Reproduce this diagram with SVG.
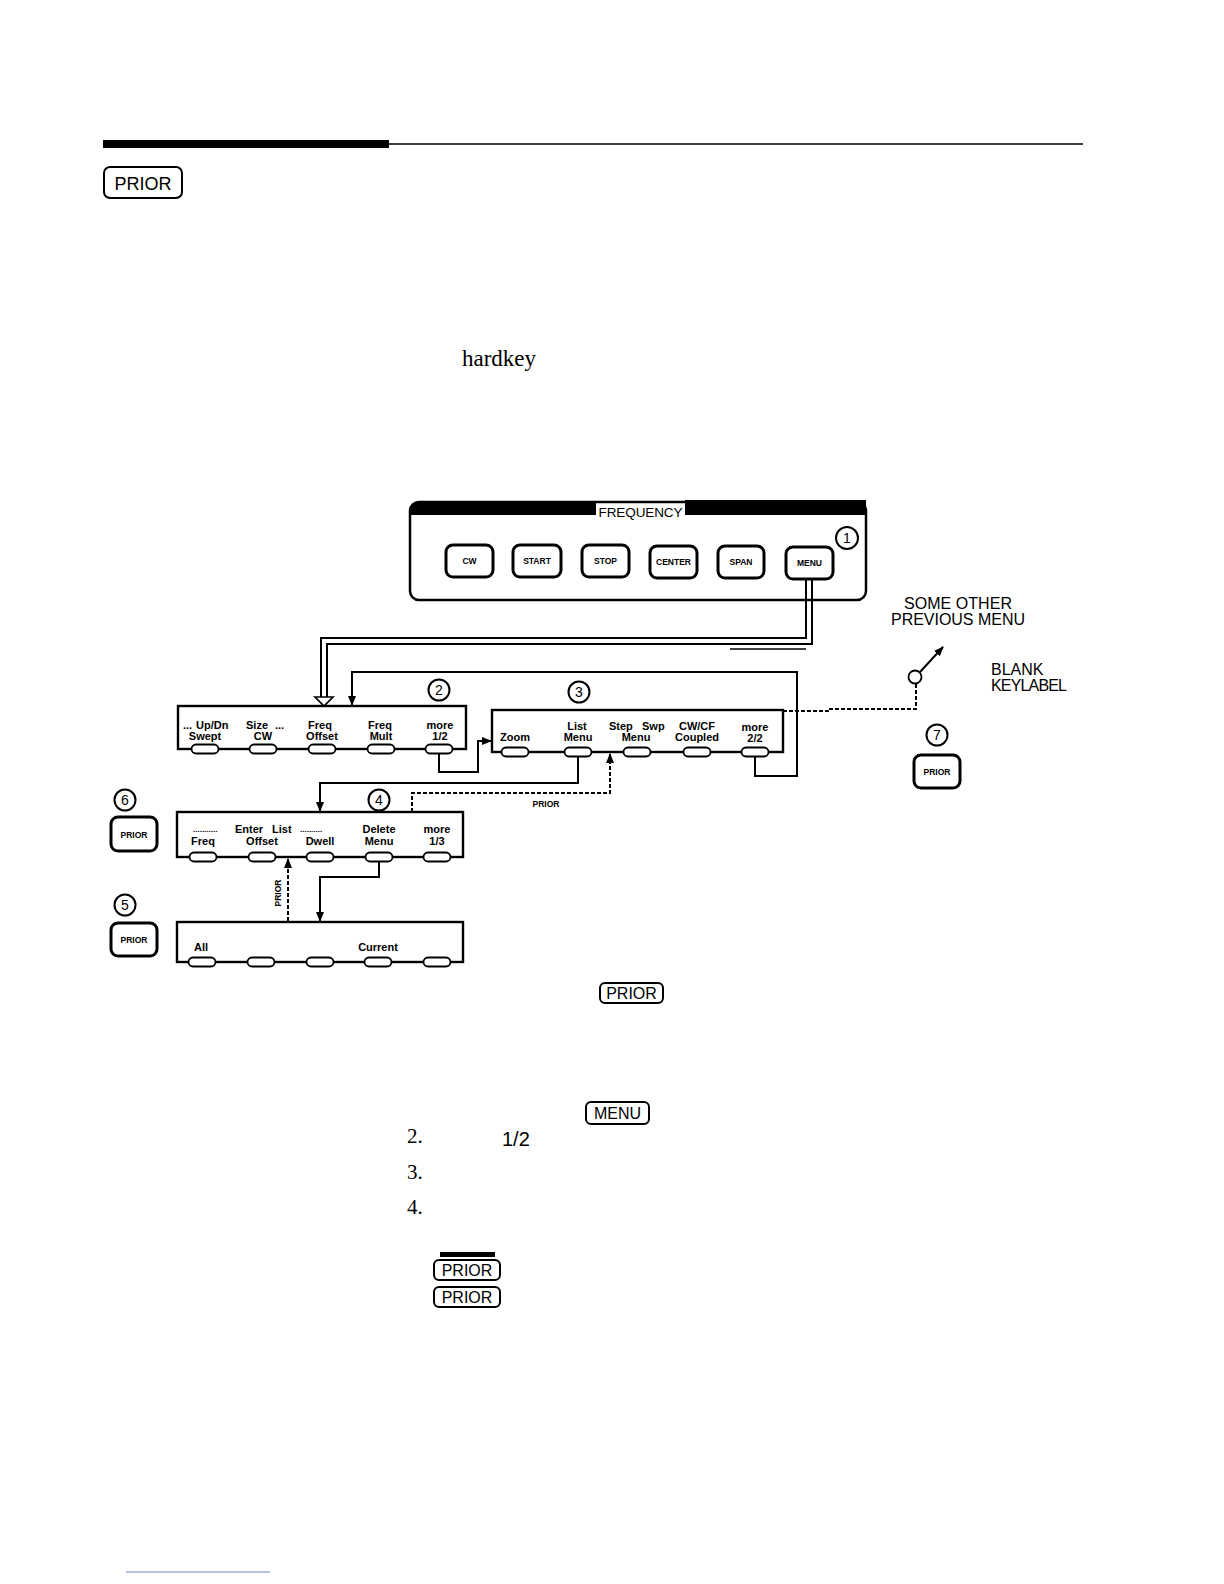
<svg xmlns="http://www.w3.org/2000/svg" xmlns:xlink="http://www.w3.org/1999/xlink" width="1224" height="1584" viewBox="0 0 1224 1584">
<style>
.box{fill:none;stroke:#000;stroke-width:2.4}
.key{fill:#fff;stroke:#000;stroke-width:1.8}
.hk{fill:#fff;stroke:#000;stroke-width:3}
.ln{fill:none;stroke:#000;stroke-width:2}
.dash{fill:none;stroke:#000;stroke-width:2;stroke-dasharray:4 2}
.lbl{font-family:"Liberation Sans",Arial,sans-serif;font-weight:bold;font-size:11px;text-anchor:middle}
.lbs{font-family:"Liberation Sans",Arial,sans-serif;font-weight:bold;font-size:11px}
.hkt{font-family:"Liberation Sans",Arial,sans-serif;font-weight:bold;font-size:8.5px;text-anchor:middle}
.num{font-family:"Liberation Sans",Arial,sans-serif;font-size:14px;text-anchor:middle}
.circ{fill:#fff;stroke:#000;stroke-width:2}
.cap{font-family:"Liberation Sans",Arial,sans-serif;font-size:16px}
.kt{font-family:"Liberation Sans",Arial,sans-serif;font-size:16px;text-anchor:middle}
.kb{fill:#fff;stroke:#000;stroke-width:2}
.ser{font-family:"Liberation Serif","Times New Roman",serif;font-size:21px}
</style>
<defs>
<rect id="sk" x="-13.5" y="-4.5" width="27" height="9" rx="4.5" class="key"/>
<marker id="arr" markerUnits="userSpaceOnUse" markerWidth="10" markerHeight="10" viewBox="0 0 10 10" refX="9" refY="5" orient="auto">
<path d="M0,1 L10,5 L0,9 Z" fill="#000"/>
</marker>
</defs>
<rect width="1224" height="1584" fill="#fff"/>

<g id="header">
<rect x="103" y="140" width="286" height="8" fill="#000"/>
<line x1="389" y1="144" x2="1083" y2="144" stroke="#000" stroke-width="1.5"/>
</g>

<g id="prior-top">
<rect x="104" y="167" width="78" height="31" rx="6" class="kb"/>
<text x="143" y="190" class="kt" style="font-size:18px">PRIOR</text>
</g>

<text id="hardkey" x="462" y="366" class="ser" style="font-size:23px">hardkey</text>

<g id="frequency-panel">
<rect x="410" y="502" width="456" height="98" rx="9" fill="none" stroke="#000" stroke-width="2.5"/>
<path d="M410,515 V511 Q410,502 419,502 H596 V515 Z" fill="#000"/>
<path d="M685,500 H866 V515 H685 Z" fill="#000"/>
<text x="640.5" y="517" class="cap" style="font-size:13.5px" text-anchor="middle" textLength="84">FREQUENCY</text>
<g id="btn-cw"><rect x="446" y="545" width="47" height="32" rx="7" class="hk"/><text x="469.5" y="564" class="hkt">CW</text></g>
<g id="btn-start"><rect x="513" y="545" width="48" height="32" rx="7" class="hk"/><text x="537" y="564" class="hkt">START</text></g>
<g id="btn-stop"><rect x="582" y="545" width="47" height="32" rx="7" class="hk"/><text x="605.5" y="564" class="hkt">STOP</text></g>
<g id="btn-center"><rect x="650" y="546" width="47" height="32" rx="7" class="hk"/><text x="673.5" y="565" class="hkt">CENTER</text></g>
<g id="btn-span"><rect x="718" y="546" width="46" height="32" rx="7" class="hk"/><text x="741" y="565" class="hkt">SPAN</text></g>
<g id="btn-menu"><rect x="786" y="547" width="47" height="32" rx="7" class="hk"/><text x="809.5" y="566" class="hkt">MENU</text></g>
</g>

<g id="c1"><circle cx="847" cy="538" r="11" class="circ"/><text x="847" y="543" class="num">1</text></g>
<g id="c2"><circle cx="439" cy="690" r="10.5" class="circ"/><text x="439" y="695" class="num">2</text></g>
<g id="c3"><circle cx="579" cy="692" r="10.5" class="circ"/><text x="579" y="697" class="num">3</text></g>
<g id="c4"><circle cx="379" cy="800" r="10.5" class="circ"/><text x="379" y="805" class="num">4</text></g>
<g id="c5"><circle cx="125" cy="905" r="10.5" class="circ"/><text x="125" y="910" class="num">5</text></g>
<g id="c6"><circle cx="125" cy="800" r="10.5" class="circ"/><text x="125" y="805" class="num">6</text></g>
<g id="c7"><circle cx="937" cy="735" r="10.5" class="circ"/><text x="937" y="740" class="num">7</text></g>

<g id="menu2">
<rect x="178" y="706" width="288" height="43" class="box"/>
<text x="183" y="729" class="lbs">...</text>
<text x="196" y="729" class="lbs">Up/Dn</text>
<text x="246" y="729" class="lbs">Size</text>
<text x="275" y="729" class="lbs">...</text>
<text x="205" y="740" class="lbl">Swept</text>
<text x="263" y="740" class="lbl">CW</text>
<text x="320" y="729" class="lbl">Freq</text>
<text x="322" y="740" class="lbl">Offset</text>
<text x="380" y="729" class="lbl">Freq</text>
<text x="381" y="740" class="lbl">Mult</text>
<text x="440" y="729" class="lbl">more</text>
<text x="440" y="740" class="lbl">1/2</text>
<use xlink:href="#sk" x="205" y="749"/><use xlink:href="#sk" x="263" y="749"/><use xlink:href="#sk" x="322" y="749"/><use xlink:href="#sk" x="381" y="749"/><use xlink:href="#sk" x="439" y="749"/>
</g>

<g id="menu3">
<rect x="492" y="710" width="291" height="42" class="box"/>
<text x="515" y="741" class="lbl">Zoom</text>
<text x="577" y="730" class="lbl">List</text>
<text x="578" y="741" class="lbl">Menu</text>
<text x="609" y="730" class="lbs">Step</text>
<text x="642" y="730" class="lbs">Swp</text>
<text x="636" y="741" class="lbl">Menu</text>
<text x="697" y="730" class="lbl">CW/CF</text>
<text x="697" y="741" class="lbl">Coupled</text>
<text x="755" y="731" class="lbl">more</text>
<text x="755" y="742" class="lbl">2/2</text>
<use xlink:href="#sk" x="515" y="752"/><use xlink:href="#sk" x="578" y="752"/><use xlink:href="#sk" x="637" y="752"/><use xlink:href="#sk" x="697" y="752"/><use xlink:href="#sk" x="755" y="752"/>
</g>

<g id="menu4">
<rect x="177" y="812" width="286" height="45" class="box"/>
<text x="193" y="832" class="lbs" style="font-size:8px">...........</text>
<text x="203" y="845" class="lbl">Freq</text>
<text x="235" y="833" class="lbs">Enter</text>
<text x="272" y="833" class="lbs">List</text>
<text x="262" y="845" class="lbl">Offset</text>
<text x="300" y="832" class="lbs" style="font-size:8px">..........</text>
<text x="320" y="845" class="lbl">Dwell</text>
<text x="379" y="833" class="lbl">Delete</text>
<text x="379" y="845" class="lbl">Menu</text>
<text x="437" y="833" class="lbl">more</text>
<text x="437" y="845" class="lbl">1/3</text>
<use xlink:href="#sk" x="203" y="857"/><use xlink:href="#sk" x="262" y="857"/><use xlink:href="#sk" x="320" y="857"/><use xlink:href="#sk" x="379" y="857"/><use xlink:href="#sk" x="437" y="857"/>
</g>

<g id="menu5">
<rect x="177" y="922" width="286" height="40" class="box"/>
<text x="201" y="951" class="lbl">All</text>
<text x="378" y="951" class="lbl">Current</text>
<use xlink:href="#sk" x="202" y="962"/><use xlink:href="#sk" x="261" y="962"/><use xlink:href="#sk" x="320" y="962"/><use xlink:href="#sk" x="378" y="962"/><use xlink:href="#sk" x="437" y="962"/>
</g>

<g id="prior6"><rect x="111" y="817" width="46" height="34" rx="7" class="hk"/><text x="134" y="838" class="hkt">PRIOR</text></g>
<g id="prior5"><rect x="111" y="923" width="46" height="33" rx="7" class="hk"/><text x="134" y="943" class="hkt">PRIOR</text></g>
<g id="prior7"><rect x="914" y="755" width="46" height="33" rx="7" class="hk"/><text x="937" y="775" class="hkt">PRIOR</text></g>

<g id="other-labels">
<text x="904" y="609" class="cap" textLength="108">SOME  OTHER</text>
<text x="891" y="625" class="cap" textLength="134">PREVIOUS  MENU</text>
<text x="991" y="675" class="cap">BLANK</text>
<text x="991" y="691" class="cap" textLength="76">KEYLABEL</text>
<text x="546" y="807" class="hkt">PRIOR</text>
<text transform="translate(281,893) rotate(-90)" class="hkt">PRIOR</text>
</g>

<g id="connectors">
<path d="M806,580 V638 H321 V697" class="ln" stroke-width="1.7"/>
<path d="M812,580 V644 H327 V697" class="ln" stroke-width="1.7"/>
<polygon points="315,697 333,697 324,706" fill="#fff" stroke="#000" stroke-width="1.7"/>
<line x1="730" y1="649" x2="806" y2="649" stroke="#000" stroke-width="1.4"/>
<path d="M755,756 V776 H797 V672 H352 V705" class="ln" marker-end="url(#arr)"/>
<path d="M439,753 V772 H478 V741 H491" class="ln" marker-end="url(#arr)"/>
<path d="M578,756 V783 H320 V811" class="ln" marker-end="url(#arr)"/>
<path d="M412,812 V793 H610 V754" class="dash" marker-end="url(#arr)"/>
<path d="M379,861 V877 H320 V921" class="ln" marker-end="url(#arr)"/>
<path d="M288,921 V859" class="dash" marker-end="url(#arr)"/>
<path d="M783,711 H828 V709 H916 V684" class="dash"/>
<circle cx="915" cy="677" r="6.5" fill="#fff" stroke="#000" stroke-width="1.8"/>
<line x1="920" y1="672" x2="943" y2="647" stroke="#000" stroke-width="2" marker-end="url(#arr)"/>
</g>

<g id="lower-text">
<rect x="600" y="983" width="63" height="20" rx="5" class="kb"/>
<text x="631.5" y="999" class="kt">PRIOR</text>
<rect x="586" y="1102" width="63" height="22" rx="5" class="kb"/>
<text x="617.5" y="1119" class="kt">MENU</text>
<text x="407" y="1143" class="ser">2.</text>
<text x="502" y="1146" class="cap" style="font-size:20px">1/2</text>
<text x="407" y="1179" class="ser">3.</text>
<text x="407" y="1214" class="ser">4.</text>
<rect x="440" y="1252" width="55" height="5" fill="#000"/>
<rect x="434" y="1260" width="66" height="20" rx="5" class="kb"/>
<text x="467" y="1276" class="kt">PRIOR</text>
<rect x="434" y="1287" width="66" height="20" rx="5" class="kb"/>
<text x="467" y="1303" class="kt">PRIOR</text>
</g>

<line id="footer-line" x1="126" y1="1572" x2="270" y2="1572" stroke="#6f84c4" stroke-width="1"/>
</svg>
